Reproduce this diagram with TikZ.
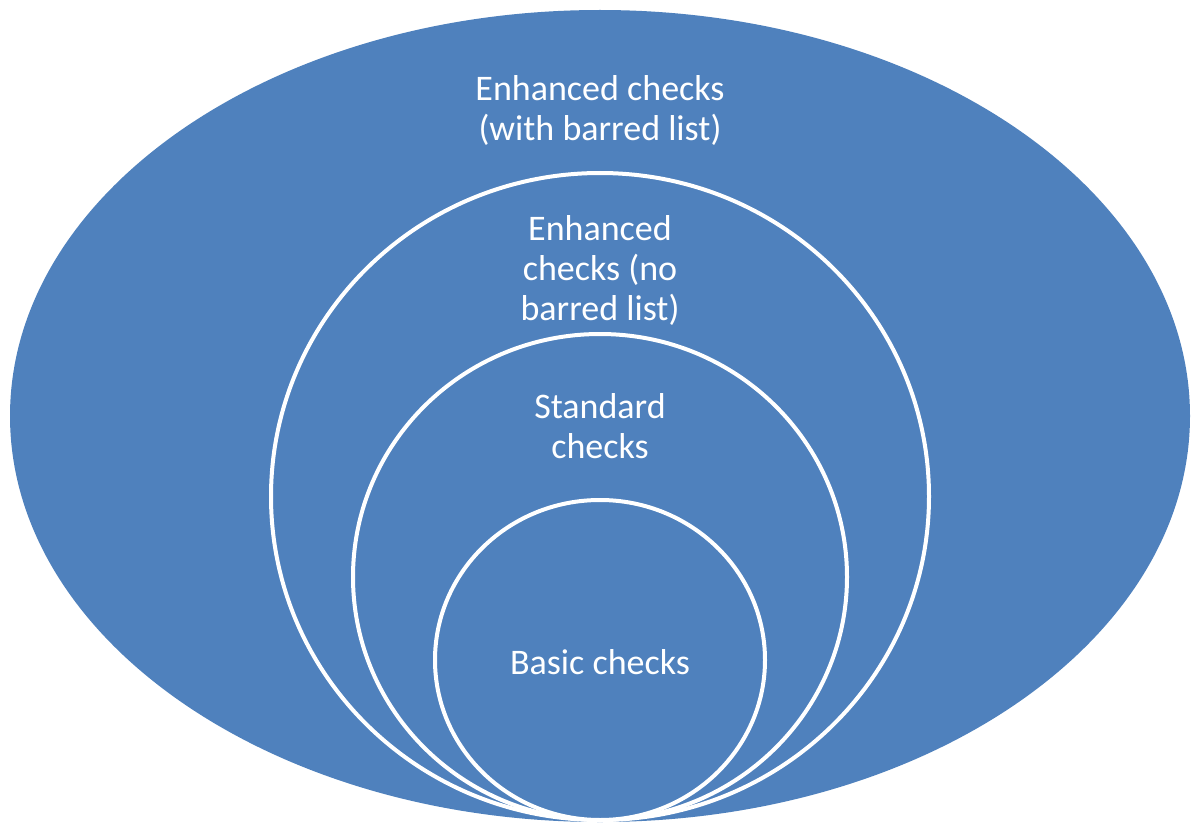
\documentclass[tikz,border=0pt]{standalone}
\usepackage{fontspec}
\setmainfont{Carlito}
\usetikzlibrary{shapes.geometric}

\definecolor{checkblue}{HTML}{4F81BD}

\begin{document}
\begin{tikzpicture}[x=1pt,y=-1pt,
    level/.style={ellipse, fill=checkblue, draw=white, line width=4pt, inner sep=0pt},
    outerlevel/.style={ellipse, fill=checkblue, inner sep=0pt},
    lbl/.style={text=white, align=center, font=\fontsize{36}{40}\selectfont, inner sep=0pt}]
  \useasboundingbox (0,0) rectangle (1192,824);

  % nested levels, all touching at the bottom
  \node[outerlevel, minimum width=1180pt, minimum height=812pt] (enhbarred) at (600,416) {};
  \node[level, minimum width=658pt, minimum height=647pt] (enhnobar) at (600,496.5) {};
  \node[level, minimum width=494pt, minimum height=486pt] (standard) at (600,577) {};
  \node[level, minimum width=330pt, minimum height=320pt] (basic) at (600,660) {};

  % labels (base = last line)
  \node[lbl, anchor=base] (enhbarredtxt) at (600,141) {Enhanced checks\\(with barred list)};
  \node[lbl, anchor=base] (enhnobartxt) at (600,320) {Enhanced\\checks (no\\barred list)};
  \node[lbl, anchor=base] (standardtxt) at (600,458) {Standard\\checks};
  \node[lbl, anchor=base] (basictxt) at (600,674) {Basic checks};
\end{tikzpicture}
\end{document}
